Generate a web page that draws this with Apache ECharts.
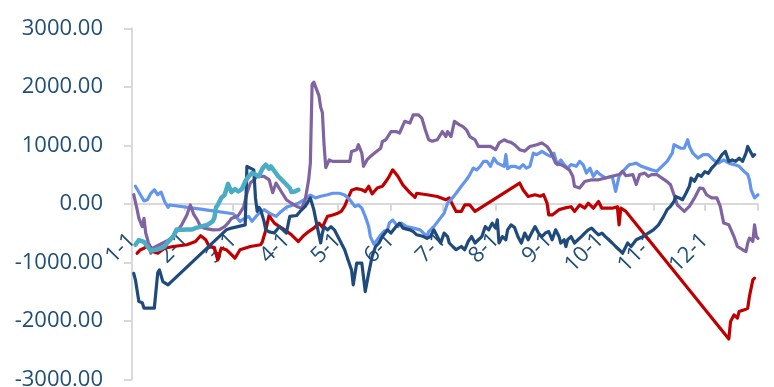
<!DOCTYPE html>
<html>
<head>
<meta charset="utf-8">
<script src="https://cdn.jsdelivr.net/npm/echarts@6/dist/echarts.min.js"></script>
<style>
  html, body { margin: 0; padding: 0; background: #ffffff; }
  #chart { width: 774px; height: 387px; }
</style>
</head>
<body>
<div id="chart"></div>
<script>
// Day-of-year offsets (0 = Jan 1) where each month begins, plus the year end.
const monthStarts = [0, 31, 59, 90, 120, 151, 181, 212, 243, 273, 304, 334, 365];
const monthLabels = ['1-1', '2-1', '3-1', '4-1', '5-1', '6-1', '7-1', '8-1', '9-1', '10-1', '11-1', '12-1'];

// Each series: [day of year, value]
const navyLine = [
  [1,-1190],[2,-1300],[4,-1670],[6,-1690],[7,-1785],[13,-1785],[15,-1180],[16,-1130],[18,-1330],[21,-1385],
  [55,-445],[58,-415],[66,-360],[67,640],[71,580],[72,100],[73,-130],[74,-60],[75,-100],[77,-300],
  [78,-445],[80,-480],[83,-500],[86,-390],[90,-500],[92,-215],[96,-200],[98,-130],[101,-45],[104,100],
  [106,-100],[108,-390],[110,-670],[111,-500],[112,-390],[114,-445],[116,-390],[118,-445],[121,-615],[124,-785],
  [126,-960],[128,-1130],[129,-1385],[131,-1015],[134,-1015],[136,-1500],[138,-1185],[140,-900],[142,-730],[144,-670],
  [146,-560],[149,-445],[151,-500],[154,-390],[156,-330],[158,-415],[162,-445],[164,-475],[166,-530],[170,-560],
  [172,-590],[174,-560],[176,-445],[178,-560],[180,-670],[182,-500],[184,-560],[185,-670],[187,-730],[189,-785],
  [192,-730],[194,-785],[196,-645],[198,-560],[200,-670],[202,-615],[204,-560],[206,-390],[208,-445],[210,-330],
  [212,-415],[213,-275],[214,-670],[216,-560],[218,-615],[219,-445],[221,-360],[223,-400],[225,-560],[227,-670],
  [229,-500],[231,-615],[233,-500],[235,-390],[237,-500],[239,-560],[241,-500],[243,-475],[245,-615],[247,-445],
  [249,-560],[250,-670],[252,-615],[253,-730],[254,-615],[256,-560],[258,-670],[260,-615],[262,-560],[264,-500],
  [266,-445],[268,-415],[270,-475],[272,-530],[274,-500],[276,-560],[278,-615],[280,-670],[282,-730],[284,-785],
  [286,-845],[288,-730],[289,-670],[291,-730],[294,-615],[298,-560],[301,-500],[304,-445],[307,-360],[310,-215],
  [312,-100],[314,-45],[316,40],[317,125],[319,100],[321,70],[323,180],[325,300],[326,440],[328,385],
  [330,500],[332,470],[334,550],[336,520],[338,610],[340,670],[342,750],[344,840],[346,895],[348,725],
  [350,750],[352,725],[354,780],[356,725],[358,865],[359,980],[361,870],[362,810],[363,840]
];

const redLine = [
  [3,-845],[5,-785],[7,-760],[10,-700],[12,-815],[15,-845],[19,-760],[24,-730],[32,-700],[37,-645],
  [40,-545],[43,-615],[45,-730],[48,-745],[50,-960],[52,-760],[55,-785],[58,-870],[60,-930],[63,-785],
  [69,-730],[75,-700],[76,-650],[78,-450],[80,-190],[81,-250],[83,-330],[86,-390],[89,-445],[93,-530],
  [97,-645],[100,-545],[103,-475],[106,-415],[109,-330],[111,-400],[113,-275],[114,-215],[117,-190],[120,-160],
  [122,-130],[124,-40],[126,100],[128,230],[131,260],[134,240],[136,210],[138,300],[140,170],[143,270],
  [146,300],[148,380],[150,470],[152,580],[155,470],[158,320],[162,190],[165,110],[166,180],[172,155],
  [178,125],[183,70],[185,100],[187,-20],[189,-130],[192,-130],[194,-20],[197,-20],[200,-130],[226,355],
  [228,240],[231,125],[235,155],[238,130],[240,155],[242,10],[243,-190],[245,-190],[249,-100],[252,-75],
  [256,-50],[258,-130],[261,-20],[264,-75],[266,10],[269,-75],[272,40],[274,-75],[280,-75],[283,-50],
  [284,-360],[285,-75],[288,-130],[348,-2310],[349,-2010],[351,-1900],[353,-1955],[354,-1840],[357,-1810],[359,-1785],
  [360,-1585],[362,-1300],[363,-1270]
];

const lightBlueLine = [
  [2,300],[5,150],[7,50],[9,70],[11,180],[13,240],[15,155],[17,200],[19,40],[21,-60],
  [22,-20],[23,-50],[40,-90],[59,-170],[63,-300],[65,-260],[68,-215],[70,-300],[73,-190],[77,-100],
  [80,-160],[84,-215],[87,-130],[90,-60],[94,-20],[97,10],[101,80],[104,150],[107,100],[110,130],
  [114,155],[117,180],[121,180],[124,150],[127,70],[128,40],[130,-45],[132,-20],[134,-75],[136,-215],
  [138,-390],[139,-560],[141,-690],[143,-615],[145,-530],[147,-470],[149,-445],[150,-330],[152,-275],[155,-390],
  [157,-330],[160,-390],[164,-415],[168,-445],[170,-500],[172,-560],[173,-475],[176,-390],[179,-275],[182,-160],
  [184,10],[186,70],[189,180],[192,300],[195,410],[197,500],[199,610],[201,580],[203,640],[205,725],
  [207,725],[209,640],[211,780],[213,695],[215,670],[217,640],[218,840],[219,600],[221,640],[223,640],
  [226,610],[228,670],[230,610],[232,640],[234,865],[236,840],[239,895],[242,840],[244,810],[246,865],
  [248,670],[250,750],[252,670],[254,610],[256,670],[259,640],[261,725],[263,670],[265,525],[267,610],
  [269,470],[271,555],[273,500],[276,440],[280,470],[282,210],[284,470],[286,550],[288,610],[290,670],
  [292,680],[294,695],[297,640],[300,610],[303,580],[306,555],[309,640],[312,725],[315,865],[316,1010],
  [318,980],[320,950],[322,950],[324,1095],[325,980],[327,865],[330,780],[333,840],[336,840],[339,750],
  [342,695],[345,750],[348,695],[351,670],[354,640],[357,550],[359,500],[360,410],[361,240],[363,100],
  [365,155]
];

const purpleLine = [
  [1,155],[3,-100],[4,-245],[5,-215],[6,-390],[7,-250],[8,-500],[9,-600],[10,-730],[11,-845],
  [12,-760],[16,-700],[20,-640],[23,-585],[26,-475],[29,-360],[32,-190],[34,-20],[36,-180],[38,-270],
  [40,-390],[42,-415],[47,-445],[51,-440],[54,-390],[56,-330],[58,-250],[62,-200],[65,-60],[67,180],
  [69,355],[71,410],[73,470],[77,470],[80,410],[82,190],[84,355],[87,210],[90,70],[93,10],
  [96,-45],[99,-75],[101,70],[103,410],[104,700],[105,2040],[106,2080],[107,2060],[109,1850],[110,1650],
  [111,1560],[112,1000],[113,620],[115,750],[117,725],[127,725],[128,895],[131,925],[132,1010],[134,865],
  [135,640],[137,750],[139,810],[142,880],[145,950],[146,1065],[148,1095],[149,1070],[151,1235],[154,1235],
  [156,1210],[159,1410],[162,1380],[164,1520],[167,1520],[169,1465],[171,1265],[173,1095],[175,1070],[178,1095],
  [181,1235],[183,1150],[184,1235],[186,1150],[188,1410],[191,1350],[193,1320],[195,1265],[197,1150],[200,1095],
  [202,980],[206,980],[209,980],[212,925],[214,1040],[217,1095],[219,1065],[221,1050],[223,1010],[226,925],
  [229,900],[232,980],[236,1010],[239,1040],[242,980],[244,895],[247,695],[250,670],[252,640],[255,580],
  [257,470],[258,300],[261,270],[264,380],[268,410],[272,410],[276,440],[280,470],[284,500],[286,555],
  [288,480],[292,500],[294,330],[296,500],[299,525],[301,470],[303,500],[306,500],[309,440],[312,380],
  [314,325],[316,155],[318,-20],[320,-75],[322,-130],[325,-45],[328,100],[331,270],[333,260],[335,155],
  [338,100],[341,100],[343,-45],[345,-330],[348,-360],[351,-560],[353,-730],[356,-785],[358,-815],[359,-670],
  [360,-585],[362,-640],[363,-360],[364,-560],[365,-590]
];

const tealLine = [
  [2,-700],[4,-620],[7,-650],[9,-730],[11,-800],[14,-785],[17,-760],[19,-730],[21,-650],[24,-560],
  [26,-440],[29,-445],[32,-440],[35,-440],[37,-415],[40,-390],[44,-360],[47,-300],[48,-245],[49,-60],
  [50,-20],[52,100],[54,150],[56,340],[58,200],[60,250],[62,210],[64,250],[66,380],[68,470],
  [70,525],[72,500],[74,470],[76,600],[78,670],[80,600],[81,640],[83,560],[85,480],[87,420],
  [90,330],[92,270],[93,200],[95,210],[97,240]
];

const labelColor = '#1F4E79';
const axisGray = '#D9D9D9';
const labelFont = { color: labelColor, fontSize: 22, fontFamily: 'Open Sans' };

const gridTop = 28.3;
const gridBottom = 7.7;
const plotHeight = 387 - gridTop - gridBottom;

function lineSeries(name, data, color, width) {
  return {
    name: name,
    type: 'line',
    data: data,
    showSymbol: false,
    symbol: 'none',
    smooth: false,
    lineStyle: { color: color, width: width, cap: 'round', join: 'round' },
    emphasis: { disabled: true }
  };
}

const chart = echarts.init(document.getElementById('chart'), null, { renderer: 'canvas' });
chart.setOption({
  animation: false,
  backgroundColor: '#ffffff',
  grid: { left: 132, right: 16, top: gridTop, bottom: gridBottom, containLabel: false, outerBoundsMode: 'none' },
  xAxis: {
    type: 'value',
    min: 0,
    max: 365,
    // the date axis sits on the zero value line, halfway up the symmetric value range
    offset: -plotHeight / 2,
    axisLine: { show: true, onZero: false, lineStyle: { color: axisGray, width: 2 } },
    axisTick: { show: true, customValues: monthStarts, length: 7, lineStyle: { color: axisGray, width: 2 } },
    axisLabel: Object.assign({
      customValues: monthStarts.slice(0, 12),
      rotate: 45,
      margin: 33,
      formatter: function (v) { return monthLabels[monthStarts.indexOf(v)] || ''; }
    }, labelFont),
    splitLine: { show: false }
  },
  yAxis: {
    type: 'value',
    min: -3000,
    max: 3000,
    interval: 1000,
    axisLine: { show: true, onZero: false, lineStyle: { color: axisGray, width: 2 } },
    axisTick: { show: true, length: 8, lineStyle: { color: axisGray, width: 2 } },
    axisLabel: Object.assign({
      margin: 29,
      formatter: function (v) { return v.toFixed(2); }
    }, labelFont),
    splitLine: { show: false }
  },
  series: [
    lineSeries('red', redLine, '#C00000', 3.2),
    lineSeries('lightBlue', lightBlueLine, '#6495ED', 3.2),
    lineSeries('purple', purpleLine, '#8064A2', 3.2),
    lineSeries('navy', navyLine, '#1F4A7C', 3.2),
    lineSeries('teal', tealLine, '#4BACC6', 4.5)
  ]
});
</script>
</body>
</html>
